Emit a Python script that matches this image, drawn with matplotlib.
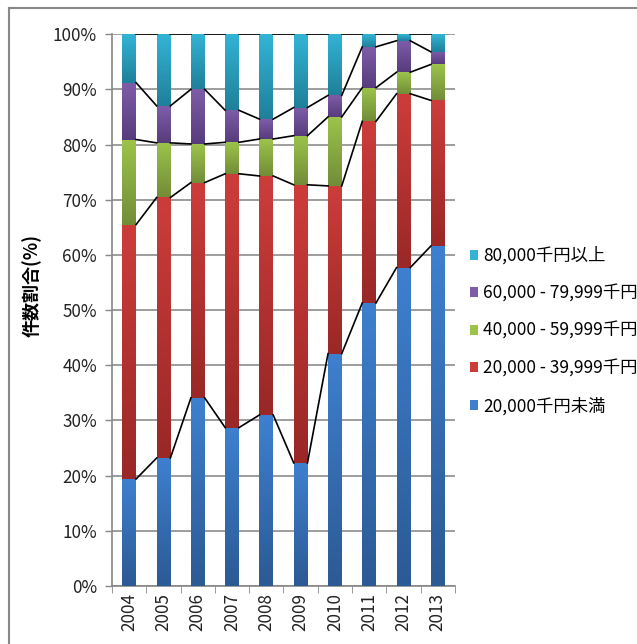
import numpy as np
import matplotlib
matplotlib.use("Agg")
import matplotlib.pyplot as plt
from matplotlib.patches import Rectangle
from matplotlib.lines import Line2D
from matplotlib.colors import LinearSegmentedColormap

plt.rcParams['font.family'] = ['Noto Sans CJK JP', 'DejaVu Sans']

years = ['2004', '2005', '2006', '2007', '2008', '2009', '2010', '2011', '2012', '2013']
series_names = ['20,000千円未満', '20,000 - 39,999千円', '40,000 - 59,999千円',
                '60,000 - 79,999千円', '80,000千円以上']
s1 = [19.4, 23.2, 34.1, 28.7, 31.0, 22.3, 42.1, 51.3, 57.7, 61.6]
s2 = [46.1, 47.2, 39.0, 46.0, 43.3, 50.4, 30.4, 32.9, 31.5, 26.4]
s3 = [15.4, 9.9, 7.0, 5.7, 6.7, 8.9, 12.5, 6.1, 3.9, 6.5]
s4 = [10.3, 6.7, 9.9, 5.8, 3.6, 5.1, 3.9, 7.4, 5.7, 2.3]
s5 = [8.8, 13.0, 10.0, 13.8, 15.4, 13.3, 11.1, 2.3, 1.2, 3.2]
yticks = [0, 10, 20, 30, 40, 50, 60, 70, 80, 90, 100]

light = ['#3E80CF', '#CC3D3A', '#9CC34B', '#7E5DA8', '#33B4D6']
dark = ['#2C5A94', '#992826', '#728D38', '#573C7C', '#1F8099']

fig = plt.figure(figsize=(6.37, 6.44), dpi=100)
ax = fig.add_axes([0.176, 0.090, 0.538, 0.857])

x = np.arange(len(years))
w = 0.40
data = [s1, s2, s3, s4, s5]
bottom = np.zeros(len(years))
cums = []
for k, vals in enumerate(data):
    vals = np.array(vals, dtype=float)
    bars = ax.bar(x, vals, w, bottom=bottom, color=light[k], zorder=3, label=series_names[k],
                  linewidth=0)
    cmap = LinearSegmentedColormap.from_list('g%d' % k, [dark[k], light[k]])
    grad = np.linspace(0, 1, 64).reshape(-1, 1)
    for b in bars:
        x0, y0 = b.get_x(), b.get_y()
        bw, bh = b.get_width(), b.get_height()
        if bh <= 0:
            continue
        im = ax.imshow(grad, cmap=cmap, aspect='auto', origin='lower',
                       extent=[x0, x0 + bw, y0, y0 + bh], zorder=3.5, interpolation='bilinear')
        im.set_clip_path(b)
    bottom = bottom + vals
    cums.append(bottom.copy())

# series lines
for c in cums:
    for i in range(len(years) - 1):
        ax.plot([x[i] + w / 2, x[i + 1] - w / 2], [c[i], c[i + 1]], color='black', lw=1.2, zorder=4)

ax.set_xlim(-0.5, len(years) - 0.5)
ax.set_ylim(0, 100)
ax.set_yticks(yticks)
ax.set_yticklabels(['%d%%' % v for v in yticks], fontsize=12.3, color='#222222')
ax.set_xticks(x)
ax.set_xticklabels(years, rotation=90, fontsize=12.3, color='#222222')
ax.tick_params(axis='x', length=0, pad=5)
ax.set_xticks(np.arange(-0.5, len(years)), minor=True)
ax.tick_params(axis='x', which='minor', length=5, color='#888888', direction='out')
ax.tick_params(axis='y', length=5, color='#888888', direction='out', width=1, pad=6)
ax.grid(axis='y', color='#8C8C8C', lw=1.2, zorder=0)
for side in ['top', 'right']:
    ax.spines[side].set_visible(False)
ax.spines['left'].set_color('#888888')
ax.spines['left'].set_linewidth(1.2)
ax.spines['bottom'].set_color('#888888')
ax.spines['bottom'].set_linewidth(1.2)

ax.set_ylabel('件数割合(%)', fontsize=13, fontweight='bold')
ax.yaxis.set_label_coords(-0.204, 0.545)

handles = [Rectangle((0, 0), 1, 1, facecolor=light[k], edgecolor='none') for k in range(5)]
leg = fig.legend(handles[::-1], series_names[::-1], loc='center left',
                 bbox_to_anchor=(0.713, 0.486), frameon=False, fontsize=12.5,
                 handlelength=0.5, handleheight=0.5, handletextpad=0.25, labelspacing=1.12)

# partial outer frame (top and left edges)
fig.add_artist(Line2D([9 / 637, 1.0], [1 - 8 / 644, 1 - 8 / 644], transform=fig.transFigure,
                      color='#888888', lw=1.5))
fig.add_artist(Line2D([9 / 637, 9 / 637], [0.0, 1 - 8 / 644], transform=fig.transFigure,
                      color='#888888', lw=1.5))
fig.savefig('out.png', dpi=100)
